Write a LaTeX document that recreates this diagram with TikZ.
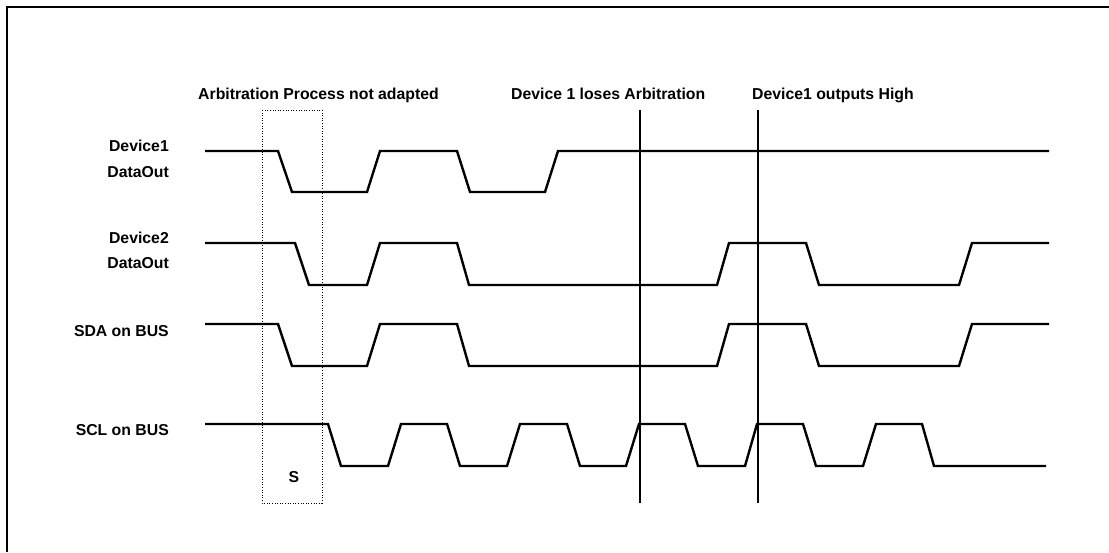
\documentclass[tikz,border=0pt]{standalone}
\usepackage{fontspec}
\setmainfont{Liberation Sans}
\begin{document}
\begin{tikzpicture}[x=1pt,y=-1pt,
  wave/.style={line width=2.4pt,line join=miter},
  marker/.style={line width=1.5pt},
  lbl/.style={font=\fontsize{15.8}{18}\selectfont\bfseries,inner sep=0pt,text=black},
  dotbox/.style={line width=1pt,dash pattern=on 1pt off 1.6pt}]
\useasboundingbox (0,0) rectangle (1109,552);
\draw[line width=2pt] (7,552) -- (7,7) -- (1109,7);
% top labels
\node[lbl,anchor=base west] (tarb) at (198,99) {Arbitration Process not adapted};
\node[lbl,anchor=base west] (tlose) at (511,99) {Device 1 loses Arbitration};
\node[lbl,anchor=base west] (thigh) at (752,99) {Device1 outputs High};
% left labels
\node[lbl,anchor=base east] (d1a) at (169,151) {Device1};
\node[lbl,anchor=base east] (d1b) at (169,177) {DataOut};
\node[lbl,anchor=base east] (d2a) at (169,243) {Device2};
\node[lbl,anchor=base east] (d2b) at (169,268) {DataOut};
\node[lbl,anchor=base east] (sda) at (169,336) {SDA on BUS};
\node[lbl,anchor=base east] (scl) at (169,435) {SCL on BUS};
% dotted box
\draw[dotbox] (262,110) rectangle (322,503);
\node[lbl,anchor=base] (s) at (294,482) {S};
% vertical markers
\coordinate (m1t) at (640,110); \coordinate (m1b) at (640,503);
\coordinate (m2t) at (758,110); \coordinate (m2b) at (758,503);
\draw[marker] (m1t) -- (m1b);
\draw[marker] (m2t) -- (m2b);
% Device1 DataOut
\draw[wave] (205,151) -- (278,151) -- (292,192) -- (367,192) -- (380,151) -- (457,151)
  -- (470,192) -- (545,192) -- (558,151) -- (1049,151);
% Device2 DataOut
\draw[wave] (205,243) -- (295,243) -- (309,285) -- (367,285) -- (380,243) -- (457,243)
  -- (469,285) -- (717,285) -- (729,243) -- (806,243) -- (819,285) -- (959,285)
  -- (972,243) -- (1049,243);
% SDA
\draw[wave] (205,324) -- (278,324) -- (292,366) -- (367,366) -- (380,324) -- (457,324)
  -- (469,366) -- (717,366) -- (729,324) -- (806,324) -- (819,366) -- (959,366)
  -- (972,324) -- (1049,324);
% SCL
\draw[wave] (205,424) -- (328,424) -- (341,466) -- (388,466) -- (401,424) -- (447,424)
  -- (460,466) -- (507,466) -- (520,424) -- (567,424) -- (580,466) -- (626,466)
  -- (639,424) -- (685,424) -- (698,466) -- (745,466) -- (757,424) -- (803,424)
  -- (816,466) -- (863,466) -- (876,424) -- (922,424) -- (934,466) -- (1046,466);
\end{tikzpicture}
\end{document}
